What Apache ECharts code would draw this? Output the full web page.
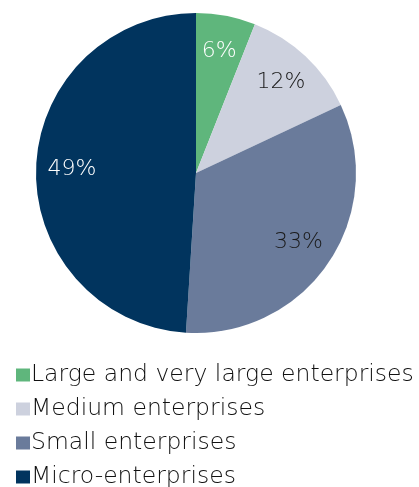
<!DOCTYPE html>
<html><head><meta charset="utf-8">
<script src="https://cdn.jsdelivr.net/npm/echarts@6/dist/echarts.min.js"></script>
<style>html,body{margin:0;padding:0;background:#fff}#c{width:419px;height:487px}</style>
</head><body><div id="c"></div>
<script>
const categories = ['Large and very large enterprises','Medium enterprises','Small enterprises','Micro-enterprises'];
const values = [6, 12, 33, 49];
const colors = ['#5fb67c','#cdd1de','#6a7b9b','#01345e'];
const labelColors = ['#ffffff','#1a1a1a','#1a1a1a','#ffffff'];
const FONT = 'DejaVu Sans';
const chart = echarts.init(document.getElementById('c'), null, {renderer:'canvas'});
const center = [196, 173];
chart.setOption({
  animation:false,
  color: colors,
  legend: {
    orient:'vertical', left: 11, top: 358, height: 129, width: 408,
    itemWidth: 14, itemHeight: 13, itemGap: 10, icon:'rect',
    textStyle:{fontFamily:FONT, fontSize:23.5, fontWeight:200, color:'#111', padding:[0,0,0,-4], lineHeight:23},
    data: categories
  },
  series: [{
    type:'pie', center:center, radius:[0,160], startAngle:90, clockwise:true,
    label:{show:false}, labelLine:{show:false}, emphasis:{disabled:true},
    data: categories.map((n,i)=>({name:n, value:values[i], itemStyle:{color:colors[i]}}))
  },{
    type:'pie', center:center, radius:[0,242], startAngle:90, clockwise:true, silent:true,
    legendHoverLink:false,
    itemStyle:{color:'rgba(0,0,0,0)'},
    label:{show:true, position:'inside', formatter:'{c}%', fontFamily:FONT, fontSize:22, fontWeight:200},
    labelLine:{show:false}, emphasis:{disabled:true},
    data: categories.map((n,i)=>({name:n+' ', value:values[i], label:{color:labelColors[i]}}))
  }]
});
</script></body></html>
